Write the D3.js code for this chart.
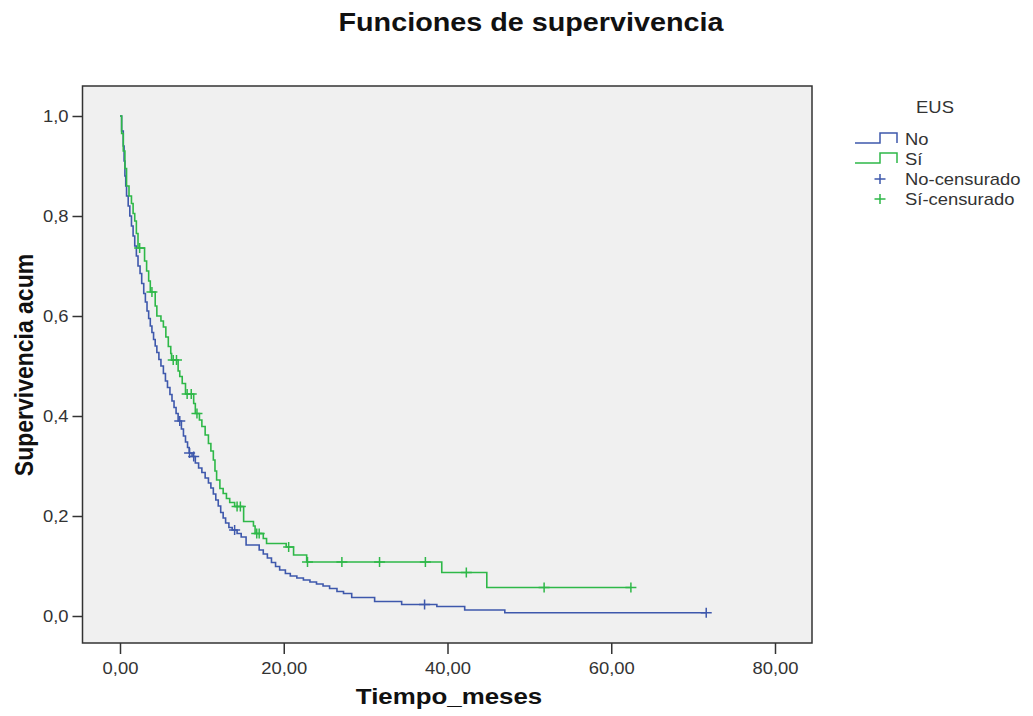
<!DOCTYPE html>
<html>
<head>
<meta charset="utf-8">
<script src="https://cdn.jsdelivr.net/npm/d3@7/dist/d3.min.js"></script>
<style>
  html, body { margin: 0; padding: 0; background: #ffffff; }
  svg { display: block; }
  text { font-family: "Liberation Sans", Arial, sans-serif; }
</style>
</head>
<body>
<svg id="chart" width="1033" height="716"></svg>
<script>
// ---------------- data ----------------
const chartTitle = "Funciones de supervivencia";
const xLabel = "Tiempo_meses";
const yLabel = "Supervivencia acum";
const legendTitle = "EUS";
const groups = ["No", "Sí"];
const censorLabels = ["No-censurado", "Sí-censurado"];
const xTicks = [0, 20, 40, 60, 80];
const yTicks = [0, 0.2, 0.4, 0.6, 0.8, 1.0];

// Kaplan-Meier steps [time (months), cumulative survival] — group "No"
const stepsNo = [
  [0, 1.0], [0.2, 0.97], [0.4, 0.94], [0.5, 0.91], [0.6, 0.88], [0.7, 0.86], [0.8, 0.84],
  [1.0, 0.82], [1.2, 0.80], [1.4, 0.78], [1.6, 0.76], [1.8, 0.74], [2.0, 0.72], [2.2, 0.70],
  [2.45, 0.685], [2.65, 0.665], [2.9, 0.645], [3.1, 0.628], [3.3, 0.61], [3.5, 0.595],
  [3.7, 0.58], [3.9, 0.567], [4.1, 0.553], [4.3, 0.54], [4.5, 0.527], [4.75, 0.513],
  [5.0, 0.50], [5.3, 0.485], [5.55, 0.47], [5.8, 0.457], [6.1, 0.443], [6.35, 0.43],
  [6.6, 0.417], [6.85, 0.405], [7.1, 0.39], [7.5, 0.374], [7.75, 0.36], [8.0, 0.348],
  [8.25, 0.337], [8.45, 0.326], [8.8, 0.319], [9.2, 0.306], [9.6, 0.296], [10.0, 0.287],
  [10.4, 0.276], [10.8, 0.266], [11.1, 0.256], [11.4, 0.244], [11.7, 0.232], [12.0, 0.22],
  [12.3, 0.207], [12.6, 0.196], [12.9, 0.186], [13.3, 0.177], [13.7, 0.172], [14.3, 0.165],
  [14.8, 0.158], [15.4, 0.142], [17.0, 0.132], [17.5, 0.124], [18.0, 0.116], [18.5, 0.107],
  [19.0, 0.099], [19.5, 0.092], [20.2, 0.085], [20.8, 0.080], [21.6, 0.076], [22.4, 0.072],
  [23.2, 0.068], [24.0, 0.064], [24.8, 0.060], [25.6, 0.055], [26.5, 0.049], [27.3, 0.045],
  [28.3, 0.037], [31.1, 0.029], [34.4, 0.023], [38.7, 0.019], [42.1, 0.012], [47.0, 0.0065]
];
// group "Sí"
const stepsSi = [
  [0, 1.0], [0.2, 0.965], [0.4, 0.93], [0.6, 0.895], [0.8, 0.86], [1.1, 0.84], [1.4, 0.825],
  [1.6, 0.805], [1.8, 0.79], [2.0, 0.765], [2.2, 0.736], [3.0, 0.71], [3.25, 0.69],
  [3.5, 0.67], [3.7, 0.648], [4.3, 0.62], [4.5, 0.60], [5.0, 0.59], [5.3, 0.578],
  [5.6, 0.558], [5.9, 0.539], [6.2, 0.525], [6.3, 0.512], [7.1, 0.49], [7.3, 0.479],
  [7.6, 0.465], [8.0, 0.444], [9.0, 0.425], [9.2, 0.405], [9.7, 0.392], [10.0, 0.379],
  [10.4, 0.362], [10.8, 0.345], [11.1, 0.33], [11.4, 0.312], [11.6, 0.29], [11.8, 0.272],
  [12.2, 0.255], [12.6, 0.245], [13.0, 0.235], [13.4, 0.227], [14.0, 0.219], [15.1, 0.189],
  [16.3, 0.18], [16.5, 0.165], [17.5, 0.155], [17.9, 0.145], [20.3, 0.138], [21.2, 0.122],
  [22.8, 0.108], [39.3, 0.087], [44.8, 0.057]
];
// censored observation times
const censorNo = [7.3, 8.5, 9.0, 14.0, 37.2, 71.6];
const censorSi = [2.4, 3.9, 6.5, 6.9, 8.2, 8.7, 9.4, 14.3, 14.7, 16.7, 17.0, 20.6, 22.9,
                  27.1, 31.7, 37.3, 42.3, 51.8, 62.4];

// ---------------- layout / style ----------------
const colors = ["#3E58AC", "#2EB848"];
const SX = 1.15; // horizontal text stretch of the reference
const frame = { left: 82.5, right: 812, top: 86, bottom: 643 };

const svg = d3.select("#chart");
const x = d3.scaleLinear().domain([0, 80]).range([120, 775]);
const y = d3.scaleLinear().domain([0, 1]).range([616, 116]);

// plot background
svg.append("rect")
  .attr("x", frame.left).attr("y", frame.top)
  .attr("width", frame.right - frame.left).attr("height", frame.bottom - frame.top)
  .attr("fill", "#F0F0F0");

// survival value at time t from a step table
function survAt(steps, t) {
  const i = d3.bisector(d => d[0]).right(steps, t) - 1;
  return steps[Math.max(0, i)][1];
}

const series = [
  { steps: stepsNo, censor: censorNo, color: colors[0] },
  { steps: stepsSi, censor: censorSi, color: colors[1] }
];

const line = d3.line().x(d => x(d[0])).y(d => y(d[1])).curve(d3.curveStepAfter);

series.forEach(s => {
  const lastT = d3.max(s.censor);
  const pts = s.steps.concat([[lastT, survAt(s.steps, lastT)]]);
  svg.append("path")
    .attr("d", line(pts))
    .attr("fill", "none")
    .attr("stroke", s.color)
    .attr("stroke-width", 1.6);
});

// censor marks
function plus(g, cx, cy, color) {
  g.append("path")
    .attr("d", `M${cx - 5.5},${cy}H${cx + 5.5}M${cx},${cy - 5}V${cy + 5}`)
    .attr("stroke", color).attr("stroke-width", 1.5).attr("fill", "none");
}
series.forEach(s => {
  const g = svg.append("g");
  s.censor.forEach(t => plus(g, x(t), y(survAt(s.steps, t)), s.color));
});

// frame
svg.append("rect")
  .attr("x", frame.left).attr("y", frame.top)
  .attr("width", frame.right - frame.left).attr("height", frame.bottom - frame.top)
  .attr("fill", "none").attr("stroke", "#333").attr("stroke-width", 1.5);

// x axis
const fmtX = d => d3.format(".2f")(d).replace(".", ",");
const gx = svg.append("g").attr("transform", `translate(0,${frame.bottom})`)
  .call(d3.axisBottom(x).tickValues(xTicks).tickFormat(fmtX).tickSize(11).tickSizeOuter(0));
gx.select(".domain").remove();
gx.selectAll(".tick line").attr("stroke", "#333").attr("stroke-width", 1.5);
gx.selectAll(".tick text")
  .attr("y", 31).attr("dy", 0)
  .attr("transform", `scale(${SX},1)`)
  .attr("fill", "#333").style("font-size", "16px")
  .style("font-family", '"Liberation Sans", Arial, sans-serif');

// y axis
const fmtY = d => d3.format(".1f")(d).replace(".", ",");
const gy = svg.append("g").attr("transform", `translate(${frame.left},0)`)
  .call(d3.axisLeft(y).tickValues(yTicks).tickFormat(fmtY).tickSize(10).tickSizeOuter(0));
gy.select(".domain").remove();
gy.selectAll(".tick line").attr("stroke", "#333").attr("stroke-width", 1.5);
gy.selectAll(".tick text")
  .attr("x", -14 / SX).attr("dy", "0.36em")
  .attr("transform", `scale(${SX},1)`)
  .attr("fill", "#333").style("font-size", "16px")
  .style("font-family", '"Liberation Sans", Arial, sans-serif');

// title
svg.append("text")
  .attr("transform", `translate(531,31) scale(${SX},1)`)
  .attr("text-anchor", "middle")
  .style("font-size", "25px").style("font-weight", "bold")
  .attr("fill", "#111")
  .text(chartTitle);

// axis titles
svg.append("text")
  .attr("transform", `translate(449,704) scale(${SX},1)`)
  .attr("text-anchor", "middle")
  .style("font-size", "22.5px").style("font-weight", "bold")
  .attr("fill", "#111")
  .text(xLabel);

svg.append("text")
  .attr("transform", `translate(33,365) scale(${SX},1) rotate(-90)`)
  .attr("text-anchor", "middle")
  .style("font-size", "23px").style("font-weight", "bold")
  .attr("fill", "#111")
  .text(yLabel);

// legend
const lg = svg.append("g");
lg.append("text")
  .attr("transform", `translate(935,113) scale(${SX},1)`)
  .attr("text-anchor", "middle")
  .style("font-size", "16px").attr("fill", "#333")
  .text(legendTitle);

const rowY = [145, 165, 185, 205];
groups.forEach((name, i) => {
  const by = rowY[i] - 2;
  lg.append("path")
    .attr("d", `M855,${by}H880V${by - 10}H897V${by}`)
    .attr("fill", "none").attr("stroke", colors[i]).attr("stroke-width", 1.5);
  lg.append("text")
    .attr("transform", `translate(905,${rowY[i]}) scale(${SX},1)`)
    .style("font-size", "16px").attr("fill", "#333")
    .text(name);
});
censorLabels.forEach((name, i) => {
  const r = rowY[i + 2];
  plus(lg, 880, r - 6, colors[i]);
  lg.append("text")
    .attr("transform", `translate(905,${r}) scale(${SX},1)`)
    .style("font-size", "16px").attr("fill", "#333")
    .text(name);
});
</script>
</body>
</html>
